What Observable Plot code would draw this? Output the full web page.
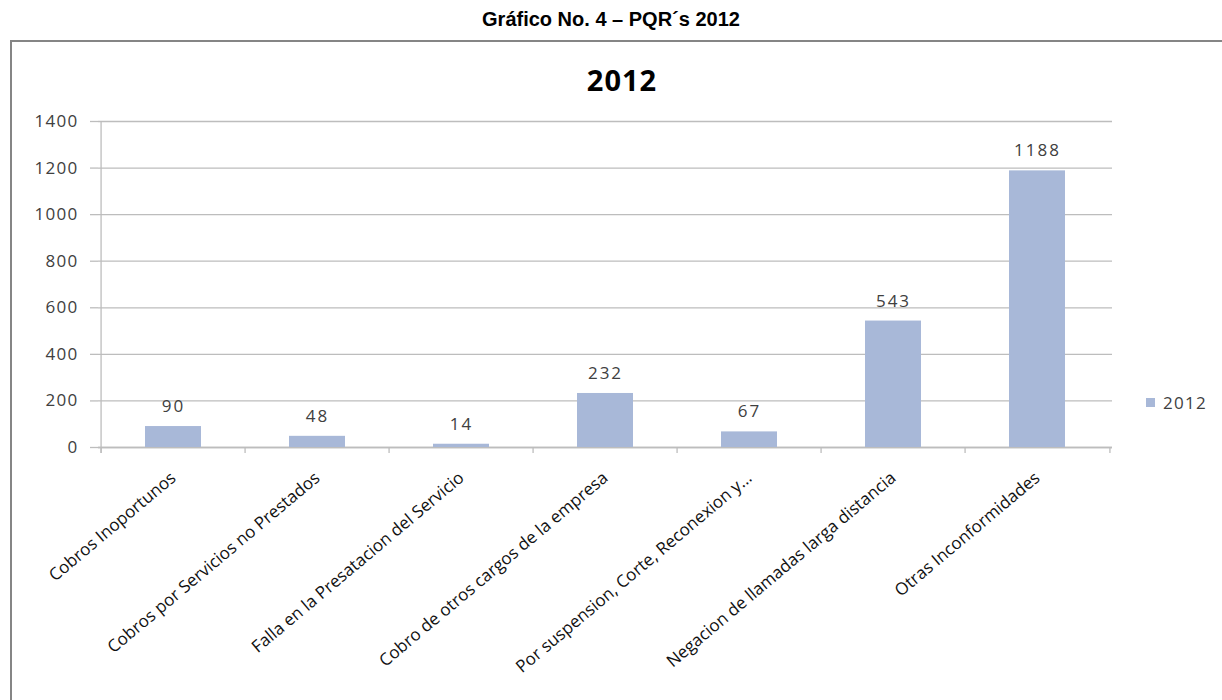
<!DOCTYPE html>
<html>
<head>
<meta charset="utf-8">
<script src="https://cdn.jsdelivr.net/npm/d3@7"></script>
<script src="https://cdn.jsdelivr.net/npm/@observablehq/plot@0.6"></script>
<style>
  html, body { margin: 0; padding: 0; background: #fff; }
  #page { position: relative; width: 1222px; height: 700px; overflow: hidden; }
  #title { position: absolute; left: 0; top: 8px; width: 1222px; text-align: center;
    font-family: "Liberation Sans", Arial, sans-serif; font-weight: bold; font-size: 20px; color: #000; }
  #box { position: absolute; left: 10px; top: 40px; width: 1212px; height: 660px;
    border-left: 2px solid #858585; border-top: 2px solid #858585; box-sizing: border-box; }
  #charttitle { position: absolute; left: 0; top: 18px; width: 1220px; text-align: center;
    font-family: "Open Sans", sans-serif; font-weight: bold; font-size: 29px; letter-spacing: 1px; color: #000; }
  #legend { position: absolute; left: 1134px; top: 349px; font-family: "Open Sans", sans-serif;
    font-size: 17px; letter-spacing: 1.3px; color: #404040; display: flex; align-items: center; }
  #legend .sw { width: 9px; height: 9px; background: #a8b8d8; margin-right: 8px; }
  #chart { position: absolute; left: 0; top: 0; }
  #chart svg g[aria-label="y-axis tick label"] text { letter-spacing: 1.3px; }
  #chart svg g[aria-label="text"] text { letter-spacing: 2px; }
</style>
</head>
<body>
<div id="page">
  <div id="title">Gráfico No. 4 – PQR´s 2012</div>
  <div id="box">
    <div id="charttitle">2012</div>
    <div id="chart"></div>
    <div id="legend"><div class="sw"></div><span id="legendLabel"></span></div>
  </div>
</div>
<script>
const categories = [
  "Cobros Inoportunos",
  "Cobros por Servicios no Prestados",
  "Falla en la Presatacion del Servicio",
  "Cobro de otros cargos de la empresa",
  "Por suspension, Corte, Reconexion y...",
  "Negacion de llamadas larga distancia",
  "Otras Inconformidades"
];
const values2012 = [90, 48, 14, 232, 67, 543, 1188];
const yTicks = [0, 200, 400, 600, 800, 1000, 1200, 1400];
const seriesName = "2012";

document.getElementById("legendLabel").textContent = seriesName;

const data = categories.map((c, i) => ({cat: c, value: values2012[i]}));

const W = 1210, H = 658;
const mL = 86, mR = 110, mT = 79, mB = 253;
const bw = (W - mL - mR) / categories.length;
const barColor = "#a8b8d8";
const gridColor = "#bdbdbd";
const font = "'Open Sans', sans-serif";

const chart = Plot.plot({
  width: W,
  height: H,
  marginLeft: mL,
  marginRight: mR,
  marginTop: mT,
  marginBottom: mB,
  style: {fontFamily: font, background: "transparent", overflow: "visible"},
  x: {type: "band", domain: categories, padding: 0, label: null},
  y: {domain: [0, 1400], label: null},
  marks: [
    Plot.gridY(yTicks, {stroke: gridColor, strokeOpacity: 1, strokeWidth: 1.3}),
    Plot.axisY(yTicks, {tickSize: 8, tickPadding: 12, stroke: gridColor, strokeOpacity: 1, strokeWidth: 1.3,
      fill: "#404040", fontSize: 17, label: null, tickFormat: d => String(d)}),
    Plot.ruleY([0], {stroke: gridColor, strokeWidth: 1.3}),
    Plot.ruleX([categories[0]], {dx: -bw / 2, stroke: gridColor, strokeWidth: 1.3, insetBottom: -6}),
    Plot.ruleX(categories, {dx: -bw / 2, stroke: gridColor, strokeWidth: 1.3, insetTop: H - mT - mB, insetBottom: -6}),
    Plot.ruleX([categories[categories.length - 1]], {dx: bw / 2, stroke: gridColor, strokeWidth: 1.3, insetTop: H - mT - mB, insetBottom: -6}),
    Plot.barY(data, {x: "cat", y: "value", fill: barColor, insetLeft: 44, insetRight: 44}),
    Plot.text(data, {x: "cat", y: "value", text: d => String(d.value), dy: -20, fontSize: 17, fill: "#404040"}),
    Plot.axisX({tickSize: 0, tickPadding: 28, tickRotate: -40, fontSize: 17, fill: "#111", label: null})
  ]
});
document.getElementById("chart").appendChild(chart);
</script>
</body>
</html>
